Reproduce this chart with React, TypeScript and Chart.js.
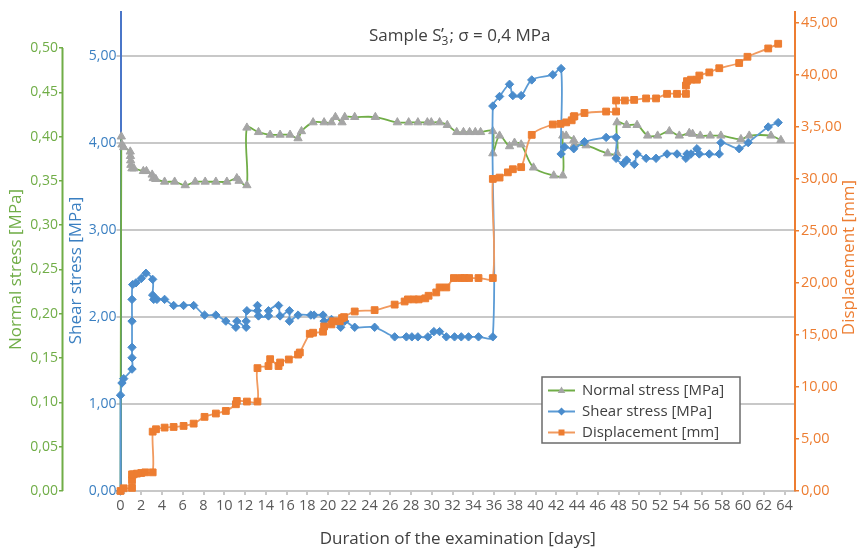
import React, { useEffect, useRef } from 'react';
import { Chart, registerables } from 'chart.js';

Chart.register(...registerables);

// ---------------- DATA ----------------
const normalDays = [0, 0.08, 0.14, 0.31, 0.94, 0.96, 0.98, 1.0, 1.1, 1.3, 2.2, 2.5, 3.05, 3.15, 3.4, 4.25, 5.22, 6.24, 7.2, 8.16, 9.19, 10.25, 11.21, 11.43, 12.18, 12.18, 13.3, 14.42, 15.38, 16.34, 17.11, 17.44, 18.56, 19.62, 20.33, 20.71, 21.35, 21.61, 22.57, 24.56, 26.68, 27.77, 28.66, 29.57, 29.95, 30.75, 31.49, 32.4, 33.05, 33.64, 34.19, 34.7, 35.88, 35.88, 36.53, 37.49, 37.97, 38.61, 39.8, 41.75, 42.62, 42.62, 42.95, 43.68, 43.74, 44.87, 46.95, 47.85, 47.85, 48.77, 49.78, 50.8, 51.76, 52.89, 53.85, 54.81, 55.13, 55.87, 56.83, 57.86, 59.79, 60.59, 62.68, 63.64];
const normalStress = [0, 0.4, 0.391, 0.388, 0.383, 0.378, 0.373, 0.368, 0.364, 0.364, 0.361, 0.361, 0.357, 0.353, 0.352, 0.349, 0.349, 0.345, 0.349, 0.349, 0.349, 0.349, 0.353, 0.35, 0.345, 0.41, 0.405, 0.402, 0.402, 0.402, 0.398, 0.406, 0.416, 0.416, 0.416, 0.422, 0.416, 0.422, 0.422, 0.422, 0.416, 0.416, 0.416, 0.416, 0.416, 0.416, 0.413, 0.405, 0.405, 0.405, 0.405, 0.405, 0.406, 0.381, 0.401, 0.389, 0.393, 0.391, 0.365, 0.356, 0.356, 0.401, 0.401, 0.396, 0.391, 0.39, 0.381, 0.381, 0.416, 0.413, 0.413, 0.401, 0.401, 0.406, 0.401, 0.404, 0.403, 0.401, 0.401, 0.401, 0.397, 0.401, 0.401, 0.396];

const shearDays = [0, 0, 0.14, 0.31, 1.11, 1.11, 1.11, 1.11, 1.11, 1.17, 1.49, 2.0, 2.45, 3.1, 3.1, 3.2, 3.51, 4.25, 5.12, 6.08, 7.05, 8.1, 9.19, 10.15, 11.12, 11.21, 12.11, 12.11, 12.18, 13.2, 13.2, 13.3, 14.26, 14.26, 15.23, 15.38, 16.28, 16.28, 17.11, 18.34, 18.65, 19.52, 19.62, 20.33, 21.22, 21.61, 22.57, 24.49, 26.42, 27.55, 28.08, 28.66, 29.62, 30.2, 30.75, 31.4, 32.19, 32.84, 33.54, 34.5, 35.88, 35.88, 36.53, 37.49, 37.81, 38.61, 39.63, 41.66, 42.46, 42.46, 42.78, 43.68, 44.71, 46.8, 47.76, 47.76, 48.49, 48.77, 49.52, 49.78, 50.65, 51.61, 52.67, 53.63, 54.49, 54.59, 54.98, 55.55, 55.78, 56.74, 57.7, 57.86, 59.62, 60.49, 62.42, 63.38];
const shearStress = [0, 1.1, 1.24, 1.29, 1.4, 1.53, 1.65, 1.95, 2.2, 2.37, 2.39, 2.44, 2.5, 2.43, 2.25, 2.2, 2.2, 2.2, 2.13, 2.13, 2.13, 2.02, 2.02, 1.95, 1.88, 1.95, 1.88, 1.95, 2.07, 2.07, 2.13, 2.01, 2.01, 2.07, 2.13, 2.01, 2.07, 1.95, 2.02, 2.02, 2.02, 2.02, 1.95, 1.97, 1.88, 1.95, 1.88, 1.88, 1.77, 1.77, 1.77, 1.77, 1.77, 1.83, 1.83, 1.77, 1.77, 1.77, 1.77, 1.77, 1.77, 4.42, 4.53, 4.67, 4.54, 4.54, 4.72, 4.78, 4.85, 3.87, 3.95, 3.93, 4.01, 4.06, 4.06, 3.82, 3.76, 3.8, 3.75, 3.87, 3.82, 3.82, 3.87, 3.87, 3.82, 3.87, 3.87, 3.93, 3.87, 3.87, 3.87, 4.0, 3.93, 4.0, 4.18, 4.23];

const dispDays = [0, 0.31, 1.11, 1.11, 1.11, 1.27, 1.59, 2.0, 2.39, 3.1, 3.1, 3.42, 4.25, 5.12, 6.08, 7.05, 8.1, 9.19, 10.15, 11.12, 11.21, 12.18, 13.2, 13.2, 14.26, 14.42, 15.23, 15.38, 16.22, 17.11, 17.28, 18.24, 18.56, 19.52, 19.62, 20.33, 20.48, 21.13, 21.35, 21.54, 22.57, 24.49, 26.42, 27.38, 27.7, 28.28, 28.73, 29.37, 29.69, 30.43, 30.75, 31.4, 32.13, 32.8, 33.15, 33.6, 34.5, 35.88, 35.88, 36.53, 37.33, 37.81, 38.61, 39.63, 41.66, 42.4, 42.95, 43.48, 43.68, 43.74, 44.71, 46.8, 47.76, 47.76, 48.6, 49.5, 50.65, 51.61, 52.67, 53.63, 54.49, 54.49, 54.59, 54.98, 55.55, 55.78, 56.74, 57.7, 59.62, 60.42, 62.42, 63.38];
const displacement = [0, 0.26, 0.3, 1.03, 1.6, 1.6, 1.67, 1.73, 1.79, 1.79, 5.7, 5.93, 6.09, 6.15, 6.25, 6.47, 7.12, 7.44, 7.69, 8.33, 8.65, 8.59, 8.59, 11.8, 12.0, 12.66, 12.0, 12.34, 12.63, 13.1, 13.3, 15.1, 15.2, 15.3, 15.8, 16.0, 16.3, 16.3, 16.6, 16.7, 17.24, 17.37, 17.9, 18.2, 18.4, 18.4, 18.4, 18.5, 18.75, 19.07, 19.55, 19.55, 20.45, 20.45, 20.45, 20.45, 20.45, 20.45, 29.97, 30.1, 30.6, 30.9, 31.1, 34.2, 35.2, 35.26, 35.4, 35.6, 35.96, 35.99, 36.3, 36.44, 36.44, 37.5, 37.5, 37.56, 37.7, 37.7, 38.14, 38.14, 38.14, 38.94, 39.36, 39.5, 39.5, 39.9, 40.2, 40.6, 41.1, 41.7, 42.5, 42.95];

const normalTickLabels = ['0,00', '0,05', '0,10', '0,15', '0,20', '0,25', '0,30', '0,35', '0,40', '0,45', '0,50'];
const shearTickLabels = ['0,00', '1,00', '2,00', '3,00', '4,00', '5,00'];
const dispTickLabels = ['0,00', '5,00', '10,00', '15,00', '20,00', '25,00', '30,00', '3,5,00', '40,00', '45,00'];

const seriesNames = ['Normal stress [MPa]', 'Shear stress [MPa]', 'Displacement [mm]'];
const titleMain = 'Sample S';
const titlePrime = '’';
const titleSub = '3';
const titleRest = '; σ = 0,4 MPa';
const xTitle = 'Duration of the examination [days]';
const yNormalTitle = 'Normal stress [MPa]';
const yShearTitle = 'Shear stress [MPa]';
const yDispTitle = 'Displacement [mm]';

// --------------- STYLE ----------------
const GREEN = '#70ad47';
const GRAY_MARK = '#a5a5a5';
const BLUE_LINE = '#5b9bd5';
const BLUE_MARK = '#4a8ccc';
const BLUE_TEXT = '#3a7fc1';
const BLUE_AXIS = '#4a76c8';
const ORANGE = '#ed7d31';
const ORANGE_LINE = '#f19a5f';
const GRID = '#c8c8c8';
const TEXT = '#404040';
const FONT = '"Open Sans", "Noto Sans", sans-serif';

const toXY = (xs: number[], ys: number[]) => xs.map((x, i) => ({ x, y: ys[i] }));

function drawMarker(ctx: CanvasRenderingContext2D, style: string, x: number, y: number, r: number, color: string) {
  ctx.save();
  ctx.fillStyle = color;
  ctx.beginPath();
  if (style === 'triangle') {
    ctx.moveTo(x, y - r);
    ctx.lineTo(x + r * 0.95, y + r * 0.6);
    ctx.lineTo(x - r * 0.95, y + r * 0.6);
  } else if (style === 'rectRot') {
    ctx.moveTo(x, y - r);
    ctx.lineTo(x + r, y);
    ctx.lineTo(x, y + r);
    ctx.lineTo(x - r, y);
  } else {
    ctx.rect(x - r * 0.75, y - r * 0.75, r * 1.5, r * 1.5);
  }
  ctx.closePath();
  ctx.fill();
  ctx.restore();
}

const decorPlugin = {
  id: 'decor',
  afterDraw(chart: any) {
    const ctx: CanvasRenderingContext2D = chart.ctx;
    const { chartArea } = chart;
    const yN = chart.scales.yN;
    const yS = chart.scales.yS;
    const yD = chart.scales.yD;
    const xs = chart.scales.x;
    ctx.save();

    // normal stress axis line (only up to 0,50)
    const nTop = yN.getPixelForValue(0.5);
    const nBot = yN.getPixelForValue(0);
    ctx.strokeStyle = GREEN;
    ctx.lineWidth = 2;
    ctx.beginPath();
    ctx.moveTo(yN.right - 0.5, nTop);
    ctx.lineTo(yN.right - 0.5, nBot);
    ctx.stroke();

    // axis titles
    ctx.font = `17px ${FONT}`;
    ctx.textAlign = 'center';
    ctx.textBaseline = 'middle';
    const rot = (text: string, x: number, y: number, color: string) => {
      ctx.save();
      ctx.translate(x, y);
      ctx.rotate(-Math.PI / 2);
      ctx.fillStyle = color;
      ctx.fillText(text, 0, 0);
      ctx.restore();
    };
    const nMid = (nTop + nBot) / 2;
    rot(yNormalTitle, yN.left + 16, nMid, GREEN);
    rot(yShearTitle, yS.left + 13, nMid + 1, BLUE_TEXT);
    rot(yDispTitle, yD.right - 8, (chartArea.top + chartArea.bottom) / 2 + 6, ORANGE);
    ctx.fillStyle = TEXT;
    ctx.fillText(xTitle, (chartArea.left + chartArea.right) / 2, xs.bottom - 9);

    // chart title inside the plot
    const cx = (chartArea.left + chartArea.right) / 2 + 2;
    const cy = chartArea.top + 24;
    ctx.textAlign = 'left';
    ctx.font = `17px ${FONT}`;
    const wa = ctx.measureText(titleMain).width;
    const wr = ctx.measureText(titleRest).width;
    ctx.font = `12px ${FONT}`;
    const ws = ctx.measureText(titleSub).width;
    const total = wa + ws + 1 + wr;
    let x = cx - total / 2;
    ctx.fillStyle = TEXT;
    ctx.font = `17px ${FONT}`;
    ctx.fillText(titleMain, x, cy);
    x += wa;
    ctx.fillText(titlePrime, x - 0.5, cy - 1);
    ctx.font = `12px ${FONT}`;
    ctx.fillText(titleSub, x, cy + 6);
    x += ws + 1;
    ctx.font = `17px ${FONT}`;
    ctx.fillText(titleRest, x, cy);

    // legend box
    const lx = 542, ly = 377, lw = 198, lh = 66;
    ctx.fillStyle = '#ffffff';
    ctx.fillRect(lx, ly, lw, lh);
    ctx.strokeStyle = '#6b6b6b';
    ctx.lineWidth = 1.5;
    ctx.strokeRect(lx, ly, lw, lh);
    const items = [
      { line: GREEN, mark: GRAY_MARK, style: 'triangle' },
      { line: BLUE_LINE, mark: BLUE_MARK, style: 'rectRot' },
      { line: ORANGE_LINE, mark: ORANGE, style: 'rect' },
    ];
    ctx.font = `15px ${FONT}`;
    ctx.textBaseline = 'middle';
    items.forEach((it, i) => {
      const yy = ly + 13.5 + i * 21;
      ctx.strokeStyle = it.line;
      ctx.lineWidth = 2;
      ctx.beginPath();
      ctx.moveTo(lx + 6, yy);
      ctx.lineTo(lx + 33, yy);
      ctx.stroke();
      drawMarker(ctx, it.style, lx + 19.5, yy, 4, it.mark);
      ctx.fillStyle = TEXT;
      ctx.fillText(seriesNames[i], lx + 40, yy);
    });

    ctx.restore();
  },
};

export default function App() {
  const ref = useRef<HTMLCanvasElement | null>(null);

  useEffect(() => {
    if (!ref.current) return;
    Chart.defaults.font.family = FONT;
    const chart = new Chart(ref.current, {
      type: 'line',
      data: {
        datasets: [
          {
            label: seriesNames[0],
            data: toXY(normalDays, normalStress),
            yAxisID: 'yN',
            borderColor: GREEN,
            backgroundColor: GRAY_MARK,
            borderWidth: 1.8,
            pointStyle: 'triangle',
            pointRadius: 4.8,
            pointBackgroundColor: GRAY_MARK,
            pointBorderColor: GRAY_MARK,
            pointBorderWidth: 1,
            tension: 0.33,
            clip: false,
            order: 3,
          },
          {
            label: seriesNames[1],
            data: toXY(shearDays, shearStress),
            yAxisID: 'yS',
            borderColor: BLUE_LINE,
            backgroundColor: BLUE_MARK,
            borderWidth: 1.8,
            pointStyle: 'rectRot',
            pointRadius: 4.2,
            pointBackgroundColor: BLUE_MARK,
            pointBorderColor: BLUE_MARK,
            pointBorderWidth: 1,
            tension: 0.33,
            clip: false,
            order: 2,
          },
          {
            label: seriesNames[2],
            data: toXY(dispDays, displacement),
            yAxisID: 'yD',
            borderColor: ORANGE_LINE,
            backgroundColor: ORANGE,
            borderWidth: 1.8,
            pointStyle: 'rect',
            pointRadius: 4.8,
            pointBackgroundColor: ORANGE,
            pointBorderColor: ORANGE,
            pointBorderWidth: 1,
            tension: 0.33,
            clip: false,
            order: 1,
          },
        ],
      } as any,
      options: {
        animation: false,
        responsive: false,
        devicePixelRatio: 1,
        layout: { padding: { top: 12, left: 0, right: 0, bottom: 0 } },
        plugins: { legend: { display: false }, tooltip: { enabled: false }, title: { display: false } },
        scales: {
          x: {
            type: 'linear',
            position: 'bottom',
            min: 0,
            max: 65,
            ticks: {
              stepSize: 2,
              includeBounds: false,
              autoSkip: false,
              maxRotation: 0,
              minRotation: 0,
              color: '#595959',
              font: { size: 14.5 },
              padding: 2,
            },
            grid: { drawOnChartArea: false, color: GRID, tickLength: 4, lineWidth: 2 },
            border: { color: GRID, width: 2 },
            afterFit: (s: any) => { s.height = 57; },
          },
          yN: {
            type: 'linear',
            position: 'left',
            weight: 2,
            min: 0,
            max: 0.5406,
            ticks: {
              stepSize: 0.05,
              includeBounds: false,
              color: GREEN,
              font: { size: 14 },
              padding: 1,
              callback: (_v: any, i: number) => normalTickLabels[i],
            },
            grid: { drawOnChartArea: false, color: GREEN, tickLength: 4, lineWidth: 1.5 },
            border: { display: false },
            afterFit: (s: any) => { s.width = 63; },
          },
          yS: {
            type: 'linear',
            position: 'left',
            weight: 1,
            min: 0,
            max: 5.5,
            ticks: {
              stepSize: 1,
              includeBounds: false,
              color: BLUE_TEXT,
              font: { size: 14 },
              padding: 0,
              callback: (_v: any, i: number) => shearTickLabels[i],
            },
            grid: { color: GRID, tickLength: 4, lineWidth: 2 },
            border: { color: BLUE_AXIS, width: 2 },
            afterFit: (s: any) => { s.width = 57.5; },
          },
          yD: {
            type: 'linear',
            position: 'right',
            min: 0,
            max: 46,
            ticks: {
              stepSize: 5,
              includeBounds: false,
              color: ORANGE,
              font: { size: 14.5 },
              padding: 2,
              callback: (_v: any, i: number) => dispTickLabels[i],
            },
            grid: { drawOnChartArea: false, color: ORANGE, tickLength: 4, lineWidth: 1.5 },
            border: { color: ORANGE, width: 2 },
            afterFit: (s: any) => { s.width = 62; },
          },
        },
      } as any,
      plugins: [decorPlugin],
    });
    return () => chart.destroy();
  }, []);

  return (
    <div style={{ position: 'absolute', left: 0, top: 0, width: 857, height: 548, background: '#ffffff' }}>
      <canvas ref={ref} width={857} height={548} style={{ display: 'block' }} />
    </div>
  );
}
